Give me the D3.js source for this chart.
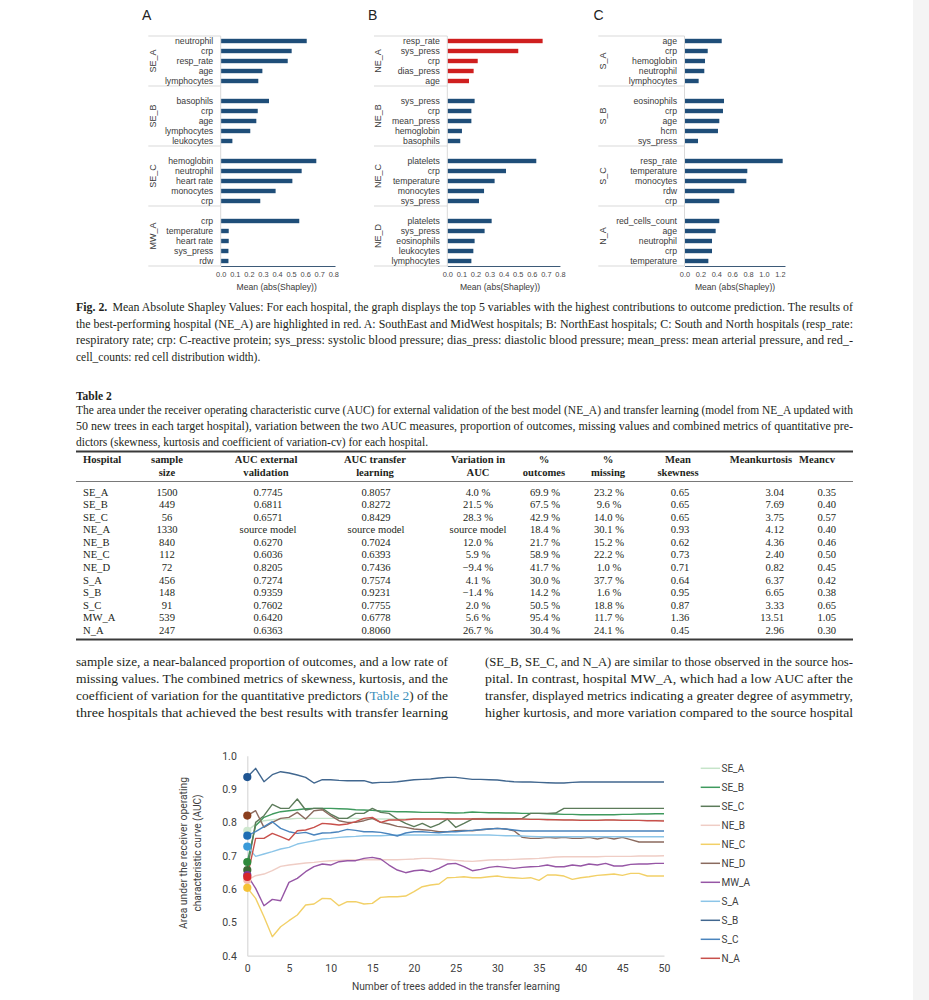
<!DOCTYPE html>
<html><head><meta charset="utf-8">
<script src="https://cdn.jsdelivr.net/npm/d3@7"></script>
<style>body{margin:0;background:#fff}svg{display:block}</style>
</head><body>
<svg id="page" width="929" height="1000"></svg>
<script>
// ---------------- DATA ----------------
// Fig. 2 panels
const panelAGroups = ["SE_A","SE_B","SE_C","MW_A"];
const panelAVars = [
  ["neutrophil","crp","resp_rate","age","lymphocytes"],
  ["basophils","crp","age","lymphocytes","leukocytes"],
  ["hemoglobin","neutrophil","heart rate","monocytes","crp"],
  ["crp","temperature","heart rate","sys_press","rdw"]];
const panelAValues = [
  [0.611,0.504,0.476,0.296,0.267],
  [0.343,0.263,0.253,0.210,0.083],
  [0.679,0.575,0.509,0.390,0.281],
  [0.558,0.057,0.057,0.055,0.055]];
const panelBGroups = ["NE_A","NE_B","NE_C","NE_D"];
const panelBVars = [
  ["resp_rate","sys_press","crp","dias_press","age"],
  ["sys_press","crp","mean_press","hemoglobin","basophils"],
  ["platelets","crp","temperature","monocytes","sys_press"],
  ["platelets","sys_press","eosinophils","leukocytes","lymphocytes"]];
const panelBValues = [
  [0.677,0.504,0.216,0.187,0.154],
  [0.194,0.171,0.171,0.104,0.092],
  [0.632,0.417,0.336,0.261,0.225],
  [0.315,0.265,0.194,0.185,0.171]];
const panelCGroups = ["S_A","S_B","S_C","N_A"];
const panelCVars = [
  ["age","crp","hemoglobin","neutrophil","lymphocytes"],
  ["eosinophils","crp","age","hcm","sys_press"],
  ["resp_rate","temperature","monocytes","rdw","crp"],
  ["red_cells_count","age","neutrophil","crp","temperature"]];
const panelCValues = [
  [0.468,0.292,0.258,0.249,0.178],
  [0.497,0.484,0.438,0.421,0.170],
  [1.235,0.790,0.778,0.627,0.438],
  [0.438,0.392,0.346,0.346,0.300]];
const ticksAB = [0,0.1,0.2,0.3,0.4,0.5,0.6,0.7,0.8];
const ticksC = [0,0.2,0.4,0.6,0.8,1.0,1.2];
const highlightGroup = "NE_A";

// Table 2
const tableHospitals = ["SE_A","SE_B","SE_C","NE_A","NE_B","NE_C","NE_D","S_A","S_B","S_C","MW_A","N_A"];
const sampleSize = ["1500","449","56","1330","840","112","72","456","148","91","539","247"];
const aucExternal = ["0.7745","0.6811","0.6571","source model","0.6270","0.6036","0.8205","0.7274","0.9359","0.7602","0.6420","0.6363"];
const aucTransfer = ["0.8057","0.8272","0.8429","source model","0.7024","0.6393","0.7436","0.7574","0.9231","0.7755","0.6778","0.8060"];
const aucVariation = ["4.0 %","21.5 %","28.3 %","source model","12.0 %","5.9 %","\u22129.4 %","4.1 %","\u22121.4 %","2.0 %","5.6 %","26.7 %"];
const pctOutcomes = ["69.9 %","67.5 %","42.9 %","18.4 %","21.7 %","58.9 %","41.7 %","30.0 %","14.2 %","50.5 %","95.4 %","30.4 %"];
const pctMissing = ["23.2 %","9.6 %","14.0 %","30.1 %","15.2 %","22.2 %","1.0 %","37.7 %","1.6 %","18.8 %","11.7 %","24.1 %"];
const meanSkewness = ["0.65","0.65","0.65","0.93","0.62","0.73","0.71","0.64","0.95","0.87","1.36","0.45"];
const meanKurtosis = ["3.04","7.69","3.75","4.12","4.36","2.40","0.82","6.37","6.65","3.33","13.51","2.96"];
const meanCv = ["0.35","0.40","0.57","0.40","0.46","0.50","0.45","0.42","0.38","0.65","1.05","0.30"];
const tableHeaders = [["Hospital",""],["sample","size"],["AUC external","validation"],["AUC transfer","learning"],["Variation in","AUC"],["%","outcomes"],["%","missing"],["Mean","skewness"],["Meankurtosis",""],["Meancv",""]];

// Line chart (AUC vs number of trees)
const trees = [0,1,2,3,4,5,6,7,8,9,10,11,12,13,14,15,16,17,18,19,20,21,22,23,24,25,26,27,28,29,30,31,32,33,34,35,36,37,38,39,40,41,42,43,44,45,46,47,48,49,50];
const seriesNames = ["SE_A","SE_B","SE_C","NE_B","NE_C","NE_D","MW_A","S_A","S_B","S_C","N_A"];
const aucSE_A = [0.7745,0.795,0.805,0.808,0.810,0.810,0.812,0.812,0.812,0.812,0.812,
  0.812,0.812,0.812,0.810,0.810,0.810,0.810,0.810,0.810,0.810,
  0.810,0.810,0.810,0.810,0.810,0.810,0.811,0.812,0.812,0.812,
  0.812,0.810,0.810,0.810,0.810,0.810,0.808,0.808,0.808,0.808,
  0.808,0.808,0.808,0.807,0.807,0.807,0.806,0.806,0.806,0.806];
const aucSE_B = [0.6811,0.790,0.815,0.825,0.832,0.835,0.838,0.841,0.842,0.842,0.842,
  0.841,0.840,0.838,0.837,0.836,0.834,0.833,0.832,0.832,0.831,
  0.830,0.830,0.830,0.829,0.828,0.829,0.831,0.830,0.829,0.829,
  0.828,0.828,0.827,0.827,0.827,0.826,0.825,0.824,0.824,0.823,
  0.823,0.823,0.823,0.823,0.824,0.824,0.825,0.825,0.826,0.826];
const aucSE_C = [0.6571,0.800,0.820,0.854,0.842,0.842,0.870,0.837,0.842,0.842,0.825,
  0.812,0.812,0.827,0.827,0.842,0.830,0.827,0.810,0.797,0.787,
  0.797,0.785,0.795,0.810,0.785,0.797,0.810,0.810,0.810,0.810,
  0.810,0.810,0.812,0.827,0.827,0.827,0.828,0.842,0.842,0.842,
  0.842,0.842,0.842,0.842,0.842,0.842,0.842,0.842,0.842,0.842];
const aucNE_B = [0.627,0.640,0.645,0.655,0.668,0.672,0.675,0.678,0.680,0.683,0.685,
  0.686,0.687,0.687,0.688,0.688,0.688,0.688,0.688,0.689,0.690,
  0.692,0.692,0.690,0.688,0.686,0.684,0.683,0.685,0.687,0.688,
  0.688,0.689,0.690,0.691,0.692,0.694,0.696,0.697,0.697,0.697,
  0.697,0.697,0.698,0.698,0.698,0.698,0.699,0.699,0.699,0.700];
const aucNE_C = [0.6036,0.572,0.517,0.457,0.487,0.505,0.522,0.552,0.555,0.572,0.571,
  0.550,0.562,0.562,0.555,0.557,0.575,0.577,0.577,0.579,0.592,
  0.607,0.612,0.615,0.634,0.635,0.637,0.634,0.634,0.637,0.639,
  0.635,0.634,0.632,0.634,0.626,0.642,0.642,0.639,0.629,0.634,
  0.637,0.641,0.643,0.645,0.641,0.647,0.647,0.639,0.639,0.639];
const aucNE_D = [0.8205,0.835,0.785,0.800,0.812,0.815,0.830,0.810,0.835,0.838,0.820,
  0.805,0.800,0.800,0.805,0.812,0.800,0.795,0.788,0.785,0.780,
  0.778,0.776,0.772,0.772,0.775,0.776,0.775,0.778,0.780,0.782,
  0.780,0.775,0.755,0.752,0.752,0.755,0.753,0.755,0.752,0.752,
  0.755,0.750,0.755,0.750,0.755,0.748,0.741,0.741,0.741,0.741];
const aucMW_A = [0.642,0.602,0.550,0.569,0.565,0.620,0.632,0.652,0.667,0.675,0.672,
  0.682,0.685,0.685,0.692,0.695,0.690,0.672,0.657,0.649,0.655,
  0.657,0.652,0.662,0.675,0.677,0.667,0.655,0.659,0.665,0.668,
  0.665,0.662,0.665,0.667,0.668,0.672,0.667,0.667,0.672,0.669,
  0.675,0.672,0.677,0.669,0.669,0.674,0.675,0.675,0.677,0.677];
const aucS_A = [0.7274,0.698,0.705,0.712,0.720,0.725,0.735,0.740,0.745,0.750,0.752,
  0.755,0.757,0.758,0.760,0.760,0.760,0.761,0.762,0.762,0.762,
  0.762,0.762,0.762,0.763,0.762,0.762,0.762,0.762,0.762,0.761,
  0.760,0.760,0.759,0.758,0.757,0.757,0.757,0.757,0.757,0.757,
  0.757,0.757,0.757,0.757,0.757,0.757,0.757,0.757,0.757,0.757];
const aucS_B = [0.9359,0.962,0.922,0.943,0.952,0.948,0.942,0.935,0.918,0.928,0.928,
  0.926,0.925,0.925,0.925,0.918,0.920,0.920,0.922,0.925,0.928,
  0.929,0.930,0.933,0.935,0.935,0.932,0.929,0.929,0.928,0.927,
  0.924,0.922,0.921,0.921,0.920,0.919,0.918,0.918,0.920,0.921,
  0.921,0.921,0.921,0.921,0.921,0.921,0.921,0.921,0.921,0.921];
const aucS_C = [0.7602,0.772,0.787,0.802,0.782,0.772,0.767,0.770,0.762,0.768,0.769,
  0.772,0.779,0.776,0.772,0.772,0.770,0.765,0.759,0.768,0.772,
  0.772,0.770,0.769,0.772,0.772,0.774,0.776,0.778,0.780,0.782,
  0.780,0.777,0.774,0.774,0.774,0.774,0.774,0.774,0.774,0.774,
  0.774,0.774,0.774,0.774,0.774,0.774,0.774,0.774,0.774,0.774];
const aucN_A = [0.6363,0.752,0.752,0.767,0.757,0.747,0.775,0.777,0.785,0.797,0.795,
  0.792,0.795,0.802,0.812,0.815,0.800,0.807,0.807,0.808,0.810,
  0.810,0.810,0.810,0.810,0.810,0.810,0.810,0.810,0.810,0.810,
  0.810,0.810,0.810,0.809,0.809,0.808,0.808,0.807,0.807,0.806,
  0.806,0.806,0.807,0.807,0.806,0.806,0.806,0.805,0.805,0.804];
const aucTicksY = [0.4,0.5,0.6,0.7,0.8,0.9,1.0];
const aucTicksX = [0,5,10,15,20,25,30,35,40,45,50];

// Text
const captionLines = [
  [{t:"Fig. 2.",b:true},{t:"Mean Absolute Shapley Values: For each hospital, the graph displays the top 5 variables with the highest contributions to outcome prediction. The results of",dx:5}],
  [{t:"the best-performing hospital (NE_A) are highlighted in red. A: SouthEast and MidWest hospitals; B: NorthEast hospitals; C: South and North hospitals (resp_rate:"}],
  [{t:"respiratory rate; crp: C-reactive protein; sys_press: systolic blood pressure; dias_press: diastolic blood pressure; mean_press: mean arterial pressure, and red_-"}],
  [{t:"cell_counts: red cell distribution width)."}]];
const tableTitle = "Table 2";
const tableDescLines = [
  [{t:"The area under the receiver operating characteristic curve (AUC) for external validation of the best model (NE_A) and transfer learning (model from NE_A updated with"}],
  [{t:"50 new trees in each target hospital), variation between the two AUC measures, proportion of outcomes, missing values and combined metrics of quantitative pre-"}],
  [{t:"dictors (skewness, kurtosis and coefficient of variation-cv) for each hospital."}]];
const paraLeft = [
  [{t:"sample size, a near-balanced proportion of outcomes, and a low rate of"}],
  [{t:"missing values. The combined metrics of skewness, kurtosis, and the"}],
  [{t:"coefficient of variation for the quantitative predictors ("},{t:"Table 2",c:"#3b8fba"},{t:") of the"}],
  [{t:"three hospitals that achieved the best results with transfer learning"}]];
const paraRight = [
  [{t:"(SE_B, SE_C, and N_A) are similar to those observed in the source hos-"}],
  [{t:"pital. In contrast, hospital MW_A, which had a low AUC after the"}],
  [{t:"transfer, displayed metrics indicating a greater degree of asymmetry,"}],
  [{t:"higher kurtosis, and more variation compared to the source hospital"}]];

// ---------------- DRAWING ----------------
const svg = d3.select("#page");
svg.append("rect").attr("width",929).attr("height",1000).attr("fill","#ffffff");
svg.append("rect").attr("x",913).attr("width",16).attr("height",1000).attr("fill","#f4f4f4");

const SANS = "'Liberation Sans', Arial, sans-serif";
const SERIF = "'Liberation Serif', 'Times New Roman', serif";
const CHART = "Roboto, 'Open Sans', sans-serif";
const INK = "#231f20";

function drawPanel(cfg) {
  const g = svg.append("g");
  const slots = [];
  cfg.groups.forEach((grp) => { slots.push(grp + "|b"); cfg.vars[0].forEach((v, vi) => slots.push(grp + "|" + vi)); });
  const y = d3.scaleBand().domain(slots).range([26, 266]).paddingInner(0.56).paddingOuter(0.28);
  const half = y.step() * y.paddingInner() / 2;
  const x = d3.scaleLinear().domain([0, cfg.max]).range([cfg.axisX, cfg.axisX + cfg.max * cfg.unit]);
  const topY = y(cfg.groups[0] + "|0") - half;
  const bottomY = y(cfg.groups[cfg.groups.length - 1] + "|4") + y.bandwidth() + half;
  g.append("line").attr("x1", cfg.sepLeft).attr("x2", cfg.axisX).attr("y1", topY).attr("y2", topY)
    .attr("stroke", "#d9d9d9").attr("stroke-width", 1);
  cfg.groups.forEach((grp, gi) => {
    const sy = y(grp + "|4") + y.bandwidth() + half;
    const gy0 = gi === 0 ? topY : y(grp + "|b") - half;
    g.append("line").attr("x1", cfg.sepLeft).attr("x2", cfg.axisX).attr("y1", sy).attr("y2", sy)
      .attr("stroke", "#d9d9d9").attr("stroke-width", 1);
    g.append("text").attr("transform", `translate(${cfg.groupX},${(gy0 + sy) / 2}) rotate(-90)`)
      .attr("text-anchor", "middle").attr("dy", "0.35em").attr("font-family", SANS)
      .attr("font-size", 9).attr("fill", "#3a3a3a").text(grp);
    cfg.vars[gi].forEach((v, vi) => {
      const key = grp + "|" + vi;
      g.append("rect").attr("x", x(0)).attr("y", y(key)).attr("width", x(cfg.values[gi][vi]) - x(0))
        .attr("height", y.bandwidth()).attr("fill", grp === highlightGroup ? "#cf1f1f" : "#1f4e79");
      g.append("text").attr("x", cfg.axisX - 7.5).attr("y", y(key) + y.bandwidth() / 2).attr("dy", "0.35em")
        .attr("text-anchor", "end").attr("font-family", SANS).attr("font-size", 8.7).attr("fill", "#3a3a3a").text(v);
    });
  });
  g.append("line").attr("x1", cfg.axisX).attr("x2", cfg.axisX).attr("y1", topY).attr("y2", bottomY)
    .attr("stroke", "#d9d9d9").attr("stroke-width", 1);
  const ax = g.append("g").attr("transform", `translate(0,${bottomY})`)
    .call(d3.axisBottom(x).tickValues(cfg.ticks).tickSize(0).tickPadding(6).tickFormat(d3.format(".1f")));
  ax.select(".domain").attr("stroke", "#3d5a78").attr("stroke-width", 1);
  ax.selectAll("text").attr("font-family", SANS).attr("font-size", 7.4).attr("fill", "#4a4a4a");
  g.append("text").attr("x", cfg.titleX).attr("y", 289.5).attr("text-anchor", "middle")
    .attr("font-family", SANS).attr("font-size", 8.6).attr("fill", "#3a3a3a").text("Mean (abs(Shapley))");
  g.append("text").attr("x", cfg.letterX).attr("y", 20).attr("text-anchor", "middle")
    .attr("font-family", SANS).attr("font-size", 14).attr("fill", "#222").text(cfg.letter);
}

drawPanel({groups: panelAGroups, vars: panelAVars, values: panelAValues, ticks: ticksAB, max: 0.812, unit: 140.8,
  axisX: 220.7, sepLeft: 148.3, groupX: 153.3, titleX: 276.7, letter: "A", letterX: 146.7});
drawPanel({groups: panelBGroups, vars: panelBVars, values: panelBValues, ticks: ticksAB, max: 0.80, unit: 140.8,
  axisX: 447.3, sepLeft: 374, groupX: 378.3, titleX: 500, letter: "B", letterX: 372.7});
drawPanel({groups: panelCGroups, vars: panelCVars, values: panelCValues, ticks: ticksC, max: 1.264, unit: 79.5,
  axisX: 684.5, sepLeft: 598.3, groupX: 603.3, titleX: 735, letter: "C", letterX: 598.5});

function textBlock(x, baselines, width, lines, opts) {
  const nodes = lines.map((segs, i) => {
    const t = svg.append("text").attr("x", x).attr("y", baselines[i]).attr("font-family", opts.font)
      .attr("font-size", opts.size).attr("fill", INK);
    segs.forEach(s => {
      const ts = t.append("tspan").text(s.t);
      if (s.b) ts.attr("font-weight", "bold");
      if (s.c) ts.attr("fill", s.c);
      if (s.dx) ts.attr("dx", s.dx);
    });
    return t;
  });
  const ratios = [];
  const widths = nodes.map(t => t.node().getComputedTextLength());
  nodes.forEach((t, i) => {
    const just = i < lines.length - 1 || opts.justifyLast;
    if (just) { ratios.push(width / widths[i]); t.attr("textLength", width).attr("lengthAdjust", "spacingAndGlyphs"); }
  });
  const r = ratios.length ? d3.mean(ratios) : 1;
  nodes.forEach((t, i) => {
    const just = i < lines.length - 1 || opts.justifyLast;
    if (!just) t.attr("textLength", widths[i] * Math.min(r, 1)).attr("lengthAdjust", "spacingAndGlyphs");
  });
}

textBlock(76, [311, 327.7, 344.4, 361], 777, captionLines, {font: SERIF, size: 11.5});
svg.append("text").attr("x", 76).attr("y", 399.5).attr("font-family", SERIF).attr("font-size", 11.5)
  .attr("font-weight", "bold").attr("fill", INK).text(tableTitle);
textBlock(76, [414, 430, 445.5], 777, tableDescLines, {font: SERIF, size: 11.5});

// Table
const tbl = svg.append("g");
tbl.append("line").attr("x1", 76).attr("x2", 853).attr("y1", 451.5).attr("y2", 451.5).attr("stroke", "#3a3a3a").attr("stroke-width", 1.8);
tbl.append("line").attr("x1", 76).attr("x2", 853).attr("y1", 481.5).attr("y2", 481.5).attr("stroke", "#6a6a6a").attr("stroke-width", 0.9);
tbl.append("line").attr("x1", 76).attr("x2", 853).attr("y1", 639.5).attr("y2", 639.5).attr("stroke", "#3a3a3a").attr("stroke-width", 1.8);
const colX = [83, 167, 268, 376, 478, 545, 609, 680, 784, 836];
const colAnchor = ["start","middle","middle","middle","middle","middle","middle","middle","end","end"];
const headAnchor = ["start","middle","middle","middle","middle","middle","middle","middle","middle","middle"];
const headX = [83, 167, 266, 375, 478, 544, 608, 678, 761, 817];
tableHeaders.forEach((h, ci) => {
  h.forEach((line, li) => {
    if (!line) return;
    tbl.append("text").attr("x", headX[ci]).attr("y", 463 + li * 12.8).attr("text-anchor", headAnchor[ci])
      .attr("font-family", SERIF).attr("font-size", 10.6).attr("font-weight", "bold").attr("fill", INK).text(line);
  });
});
const rowY = d3.scalePoint().domain(tableHospitals).range([492, 630]);
const columns = [tableHospitals, sampleSize, aucExternal, aucTransfer, aucVariation, pctOutcomes, pctMissing, meanSkewness, meanKurtosis, meanCv];
tableHospitals.forEach((h, ri) => {
  columns.forEach((col, ci) => {
    tbl.append("text").attr("x", colX[ci]).attr("y", rowY(h) + 3.7).attr("text-anchor", colAnchor[ci])
      .attr("font-family", SERIF).attr("font-size", 10.6).attr("fill", INK).text(col[ri]);
  });
});

textBlock(76, [666, 683, 700, 717], 372, paraLeft, {font: SERIF, size: 12.3, justifyLast: true});
textBlock(485, [666, 683, 700, 717], 368, paraRight, {font: SERIF, size: 12.3, justifyLast: true});

// Line chart
const seriesValues = [aucSE_A, aucSE_B, aucSE_C, aucNE_B, aucNE_C, aucNE_D, aucMW_A, aucS_A, aucS_B, aucS_C, aucN_A];
const lineColors = ["#c6e4c9","#3f9a5e","#5c7b5a","#efcdc5","#f2d067","#8a6a5e","#9656a5","#8cc5e8","#41678f","#4a84bd","#c8504b"];
const dotColors = ["#cfe8cf","#2f8a3c","#3d6b35","#f4bcb2","#f5c236","#8b3f1e","#7d3c98","#3a9ad9","#1f5592","#1e6db3","#d6262a"];
const lx = d3.scaleLinear().domain([0, 50]).range([247.3, 664]);
const ly = d3.scaleLinear().domain([0.4, 1.0]).range([955.7, 755.7]);
const lc = svg.append("g");
const yAx = lc.append("g").attr("transform", `translate(${lx(0)},0)`)
  .call(d3.axisLeft(ly).tickValues(aucTicksY).tickSize(0).tickPadding(10.5).tickFormat(d3.format(".1f")));
yAx.select(".domain").attr("stroke", "#d9d9d9").attr("stroke-width", 1.2);
yAx.selectAll("text").attr("font-family", CHART).attr("font-size", 10.5).attr("fill", "#404040");
const xAx = lc.append("g").attr("transform", `translate(0,${ly(0.4)})`)
  .call(d3.axisBottom(lx).tickValues(aucTicksX).tickSize(0).tickPadding(9).tickFormat(d3.format("d")));
xAx.select(".domain").attr("stroke", "#d9d9d9").attr("stroke-width", 1.2);
xAx.selectAll("text").attr("font-family", CHART).attr("font-size", 10.5).attr("fill", "#404040");
const line = d3.line().x((d, i) => lx(trees[i])).y(d => ly(d));
seriesValues.forEach((vals, si) => {
  lc.append("path").attr("d", line(vals)).attr("fill", "none").attr("stroke", lineColors[si])
    .attr("stroke-width", 1.4).attr("stroke-linejoin", "round");
});
seriesValues.forEach((vals, si) => {
  lc.append("circle").attr("cx", lx(trees[0])).attr("cy", ly(vals[0])).attr("r", 4.1).attr("fill", dotColors[si]);
});
lc.append("text").attr("x", 456).attr("y", 990).attr("text-anchor", "middle").attr("font-family", CHART)
  .attr("font-size", 10).attr("fill", "#404040").attr("textLength", 208).attr("lengthAdjust", "spacingAndGlyphs")
  .text("Number of trees added in the transfer learning");
lc.append("text").attr("transform", "translate(183.3,853) rotate(-90)").attr("text-anchor", "middle").attr("dy", "0.35em")
  .attr("font-family", CHART).attr("font-size", 10).attr("fill", "#404040").attr("textLength", 152).attr("lengthAdjust", "spacingAndGlyphs")
  .text("Area under the receiver operating");
lc.append("text").attr("transform", "translate(197.3,853) rotate(-90)").attr("text-anchor", "middle").attr("dy", "0.35em")
  .attr("font-family", CHART).attr("font-size", 10).attr("fill", "#404040").attr("textLength", 117).attr("lengthAdjust", "spacingAndGlyphs")
  .text("characteristic curve (AUC)");
const legY = d3.scalePoint().domain(seriesNames).range([768.3, 958.3]);
seriesNames.forEach((n, si) => {
  lc.append("line").attr("x1", 700.7).attr("x2", 720).attr("y1", legY(n)).attr("y2", legY(n))
    .attr("stroke", lineColors[si]).attr("stroke-width", 1.5);
  lc.append("text").attr("x", 721.5).attr("y", legY(n)).attr("dy", "0.35em").attr("font-family", CHART)
    .attr("font-size", 10).attr("fill", "#404040").text(n);
});
</script>
</body></html>
